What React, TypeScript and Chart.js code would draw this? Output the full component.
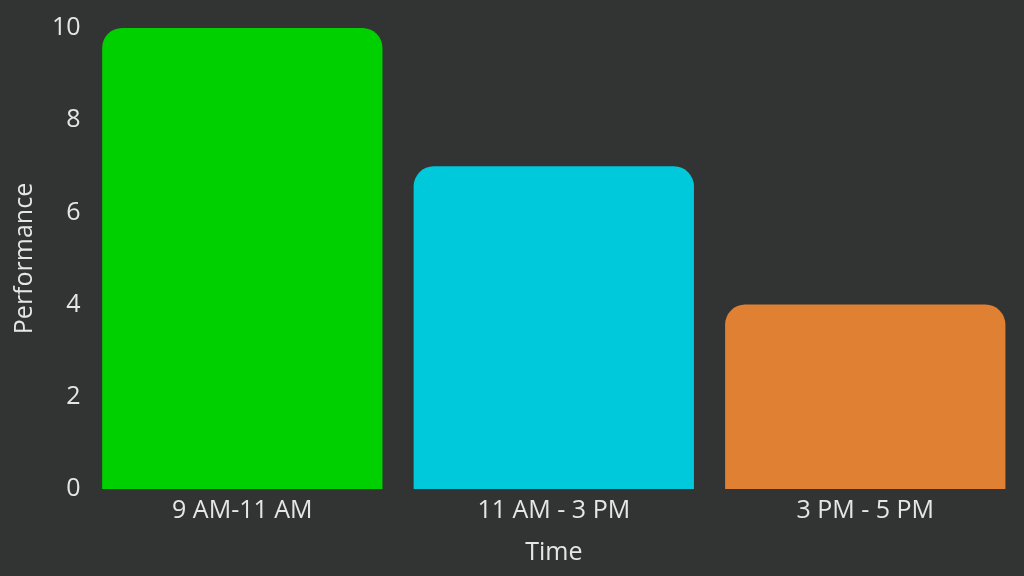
import React, { useEffect, useRef } from 'react';
import { Chart, registerables } from 'chart.js';

Chart.register(...registerables);

const categories = ['9 AM-11 AM', '11 AM - 3 PM', '3 PM - 5 PM'];
const performance = [10, 7, 4];
const barColors = ['#00d000', '#00c9dc', '#df8033'];
const yTicks = [0, 2, 4, 6, 8, 10];

const textColor = '#e6e6e6';
const fontFamily = '"Open Sans", sans-serif';

const App: React.FC = () => {
  const chartRef = useRef<HTMLCanvasElement>(null);

  useEffect(() => {
    if (!chartRef.current) return;
    const chart = new Chart(chartRef.current, {
      type: 'bar',
      data: {
        labels: categories,
        datasets: [
          {
            label: 'Performance',
            data: performance,
            backgroundColor: barColors,
            borderRadius: { topLeft: 20, topRight: 20, bottomLeft: 0, bottomRight: 0 },
            borderSkipped: false,
            categoryPercentage: 1,
            barPercentage: 0.9,
          },
        ],
      },
      options: {
        animation: false,
        responsive: false,
        maintainAspectRatio: false,
        layout: { padding: { top: 28, right: 3, left: 6, bottom: 4 } },
        plugins: {
          legend: { display: false },
          tooltip: { enabled: false },
        },
        scales: {
          x: {
            grid: { display: false, drawTicks: false },
            border: { display: false },
            ticks: { color: textColor, font: { family: fontFamily, size: 25 }, padding: 7 },
            title: { display: true, text: 'Time', color: textColor, font: { family: fontFamily, size: 25 }, padding: { top: 5, bottom: 4 } },
          },
          y: {
            min: 0,
            max: 10,
            afterBuildTicks: (axis) => {
              axis.ticks = yTicks.map((v) => ({ value: v }));
            },
            grid: { display: false, drawTicks: false },
            border: { display: false },
            ticks: { color: textColor, font: { family: fontFamily, size: 25 }, padding: 6 },
            title: { display: true, text: 'Performance', color: textColor, font: { family: fontFamily, size: 25 }, padding: { top: 4, bottom: 6 } },
          },
        },
      },
    });
    return () => chart.destroy();
  }, []);

  return (
    <div style={{ position: 'fixed', left: 0, top: 0, width: 1024, height: 576, background: '#323333' }}>
      <canvas ref={chartRef} width={1024} height={576} style={{ display: 'block' }} />
    </div>
  );
};

export default App;
